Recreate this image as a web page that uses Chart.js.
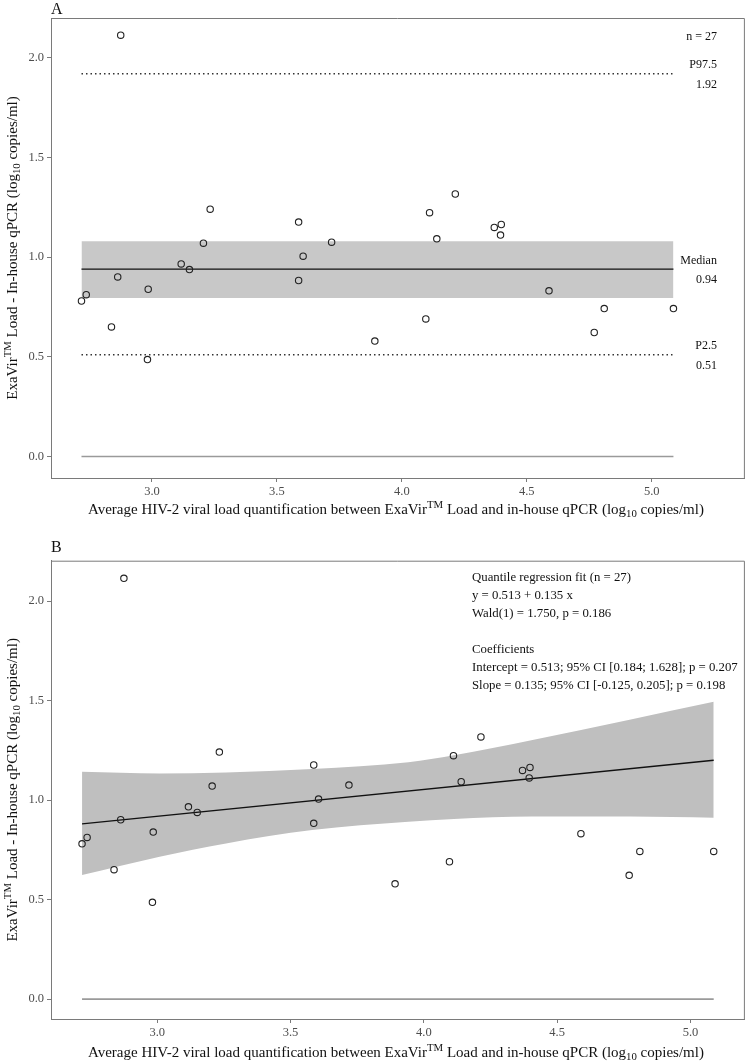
<!DOCTYPE html>
<html lang="en">
<head>
<meta charset="UTF-8">
<title>ExaVir Load vs in-house qPCR</title>
<script src="https://cdn.jsdelivr.net/npm/chart.js"></script>
<style>
  body { margin: 0; background: #fff; }
  #wrap { position: relative; width: 750px; height: 1061px; }
  canvas { position: absolute; left: 0; }
</style>
</head>
<body>
<div id="wrap">
  <canvas id="chartA" width="750" height="520" style="top:0"></canvas>
  <canvas id="chartB" width="750" height="541" style="top:520px"></canvas>
</div>
<script>
// average of both methods (log10 copies/ml)
const avgLoad = [2.718, 2.737, 2.838, 2.863, 2.875, 2.982, 2.985, 3.117, 3.150, 3.206,
                 3.233, 3.587, 3.587, 3.605, 3.719, 3.892, 4.096, 4.111, 4.140, 4.214,
                 4.370, 4.395, 4.398, 4.589, 4.770, 4.810, 5.087];
// ExaVir minus in-house
const diffLoad = [0.780, 0.812, 0.650, 0.901, 2.114, 0.486, 0.839, 0.966, 0.938, 1.070,
                  1.241, 0.883, 1.176, 1.005, 1.075, 0.579, 0.690, 1.223, 1.092, 1.317,
                  1.149, 1.111, 1.164, 0.831, 0.622, 0.742, 0.742];
const xTicks = [3.0, 3.5, 4.0, 4.5, 5.0];
const yTicks = [0.0, 0.5, 1.0, 1.5, 2.0];

// panel A reference lines
const lineSpan = [2.718, 5.087];
const medianDiff = 0.94;
const medianLow = 0.795;
const medianHigh = 1.08;
const p2_5 = 0.51;
const p97_5 = 1.92;

// panel B quantile regression fit and its band
const fitX = [2.718, 5.087];
const fitY = [0.880, 1.200];
const bandX = [2.718, 3.009, 3.258, 3.581, 3.942, 4.113, 4.403, 4.776, 5.087];
const bandUpper = [1.142, 1.134, 1.139, 1.156, 1.190, 1.225, 1.300, 1.405, 1.494];
const bandLower = [0.623, 0.715, 0.782, 0.849, 0.891, 0.905, 0.917, 0.917, 0.911];

const SERIF = '"Liberation Serif", "Times New Roman", serif';
const FRAME = '#7a7a7a';

const toPts = (xs, ys) => xs.map((x, i) => ({ x: x, y: ys[i] }));
const flat = v => lineSpan.map(x => ({ x: x, y: v }));

// text with superscript / subscript pieces: [text, mode] mode 1 = sup, -1 = sub
function drawRich(ctx, parts, x, y, size, align) {
    const small = size * 0.72;
    let w = 0;
    parts.forEach(([t, m]) => {
        ctx.font = (m ? small : size) + 'px ' + SERIF;
        w += ctx.measureText(t).width;
    });
    let cx = align === 'center' ? x - w / 2 : x;
    ctx.textAlign = 'left';
    ctx.textBaseline = 'alphabetic';
    parts.forEach(([t, m]) => {
        ctx.font = (m ? small : size) + 'px ' + SERIF;
        const dy = m === 1 ? -size * 0.38 : (m === -1 ? size * 0.22 : 0);
        ctx.fillText(t, cx, y + dy);
        cx += ctx.measureText(t).width;
    });
}

const yTitle = [['ExaVir', 0], ['TM', 1], [' Load - In-house qPCR (log', 0], ['10', -1], [' copies/ml)', 0]];
const xTitle = [['Average HIV-2 viral load quantification between ExaVir', 0], ['TM', 1],
                [' Load and in-house qPCR (log', 0], ['10', -1], [' copies/ml)', 0]];

// frame, panel letter and axis titles
function decorPlugin(letter, letterY, xTitleY) {
    return {
        id: 'decor' + letter,
        afterDraw(chart) {
            const ctx = chart.ctx;
            const a = chart.chartArea;
            ctx.save();
            ctx.strokeStyle = FRAME;
            ctx.lineWidth = 1;
            ctx.beginPath();
            ctx.moveTo(a.left, a.top + 0.5);
            ctx.lineTo(a.right - 0.5, a.top + 0.5);
            ctx.lineTo(a.right - 0.5, a.bottom);
            ctx.stroke();

            ctx.fillStyle = '#111';
            ctx.font = '16px ' + SERIF;
            ctx.textAlign = 'left';
            ctx.textBaseline = 'alphabetic';
            ctx.fillText(letter, a.left, letterY);

            drawRich(ctx, xTitle, (a.left + a.right) / 2 - 2, xTitleY, 15, 'center');

            ctx.translate(17, (a.top + a.bottom) / 2);
            ctx.rotate(-Math.PI / 2);
            drawRich(ctx, yTitle, 0, 0, 15, 'center');
            ctx.restore();
        }
    };
}

function baseOptions(xMin, xMax, yMin, yMax, topPad) {
    const tickFont = { family: SERIF, size: 12.5 };
    return {
        responsive: false,
        animation: false,
        layout: { padding: { top: topPad, right: 2, left: 0, bottom: 0 } },
        plugins: { legend: { display: false }, tooltip: { enabled: false } },
        scales: {
            x: {
                type: 'linear', min: xMin, max: xMax,
                afterBuildTicks: s => { s.ticks = xTicks.map(v => ({ value: v })); },
                afterFit: s => { s.height = 42; },
                ticks: { font: tickFont, color: '#4d4d4d', padding: 2, maxRotation: 0, autoSkip: false,
                         callback: v => v.toFixed(1) },
                grid: { display: true, drawOnChartArea: false, drawTicks: true, tickLength: 4, color: FRAME },
                border: { display: true, color: FRAME, width: 1 }
            },
            y: {
                min: yMin, max: yMax,
                afterBuildTicks: s => { s.ticks = yTicks.map(v => ({ value: v })); },
                afterFit: s => { s.width = 51; },
                ticks: { font: tickFont, color: '#4d4d4d', padding: 3, autoSkip: false,
                         callback: v => v.toFixed(1) },
                grid: { display: true, drawOnChartArea: false, drawTicks: true, tickLength: 4, color: FRAME },
                border: { display: true, color: FRAME, width: 1 }
            }
        }
    };
}

const pointSet = {
    label: 'Samples', data: toPts(avgLoad, diffLoad), showLine: false, order: 0,
    pointRadius: 3.2, pointBorderWidth: 1.1, pointBorderColor: '#222', pointBackgroundColor: 'rgba(255,255,255,0)'
};
const zeroSet = {
    label: 'zero', data: flat(0), borderColor: '#9a9a9a', borderWidth: 1.6, pointRadius: 0, order: 1
};

// ---- panel A ----
new Chart(document.getElementById('chartA'), {
    type: 'line',
    data: {
        datasets: [
            pointSet,
            { label: 'Median', data: flat(medianDiff), borderColor: '#111', borderWidth: 1.4, pointRadius: 0, order: 1 },
            { label: 'P97.5', data: flat(p97_5), borderColor: '#333', borderWidth: 1.5, borderDash: [1.5, 3], pointRadius: 0, order: 1 },
            { label: 'P2.5', data: flat(p2_5), borderColor: '#333', borderWidth: 1.5, borderDash: [1.5, 3], pointRadius: 0, order: 1 },
            zeroSet,
            { label: 'CI high', data: flat(medianHigh), borderWidth: 0, pointRadius: 0, fill: '+1',
              backgroundColor: '#c8c8c8', order: 2 },
            { label: 'CI low', data: flat(medianLow), borderWidth: 0, pointRadius: 0, fill: false, order: 2 }
        ]
    },
    options: baseOptions(2.596, 5.373, -0.108, 2.2, 18),
    plugins: [decorPlugin('A', 14, 514), {
        id: 'labelsA',
        afterDraw(chart) {
            const ctx = chart.ctx;
            const a = chart.chartArea;
            const y = chart.scales.y;
            const rx = a.right - 28;
            ctx.save();
            ctx.fillStyle = '#111';
            ctx.font = '12px ' + SERIF;
            ctx.textAlign = 'right';
            ctx.textBaseline = 'middle';
            ctx.fillText('n = 27', rx, a.top + 19);
            [['P97.5', p97_5], ['Median', medianDiff], ['P2.5', p2_5]].forEach(([name, v]) => {
                const py = y.getPixelForValue(v);
                ctx.fillText(name, rx, py - 8.5);
                ctx.fillText(v.toFixed(2), rx, py + 11);
            });
            ctx.restore();
        }
    }]
});

// ---- panel B ----
new Chart(document.getElementById('chartB'), {
    type: 'line',
    data: {
        datasets: [
            pointSet,
            { label: 'Fit', data: toPts(fitX, fitY), borderColor: '#111', borderWidth: 1.3, pointRadius: 0, order: 1 },
            zeroSet,
            { label: 'Upper', data: toPts(bandX, bandUpper), borderWidth: 0, pointRadius: 0, fill: '+1',
              backgroundColor: '#bfbfbf', cubicInterpolationMode: 'monotone', order: 2 },
            { label: 'Lower', data: toPts(bandX, bandLower), borderWidth: 0, pointRadius: 0, fill: false,
              cubicInterpolationMode: 'monotone', order: 2 }
        ]
    },
    options: baseOptions(2.6016, 5.204, -0.1, 2.2025, 40.7),
    plugins: [decorPlugin('B', 32, 536.5), {
        id: 'labelsB',
        afterDraw(chart) {
            const ctx = chart.ctx;
            const a = chart.chartArea;
            const lines = [
                [0, 'Quantile regression fit (n = 27)'],
                [1, 'y = 0.513 + 0.135 x'],
                [2, 'Wald(1) = 1.750, p = 0.186'],
                [4, 'Coefficients'],
                [5, 'Intercept = 0.513; 95% CI [0.184; 1.628]; p = 0.207'],
                [6, 'Slope = 0.135; 95% CI [-0.125, 0.205]; p = 0.198']
            ];
            ctx.save();
            ctx.fillStyle = '#111';
            ctx.font = '12.8px ' + SERIF;
            ctx.textAlign = 'left';
            ctx.textBaseline = 'middle';
            lines.forEach(([row, t]) => ctx.fillText(t, 472, a.top + 17 + row * 18));
            ctx.restore();
        }
    }]
});
</script>
</body>
</html>
